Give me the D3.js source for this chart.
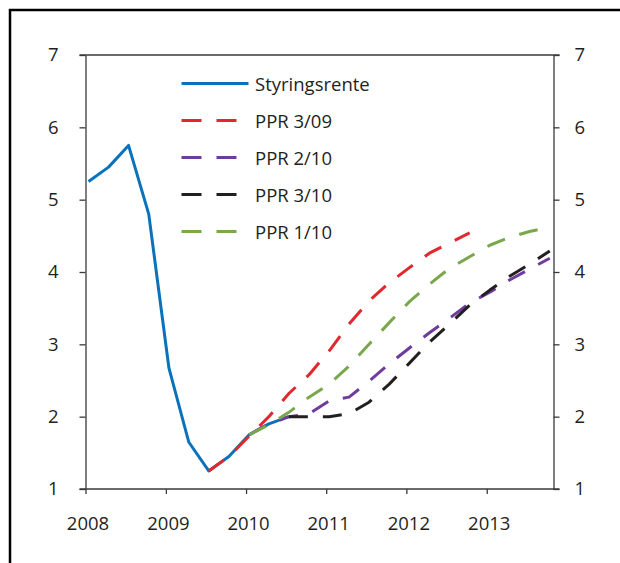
<!DOCTYPE html>
<html>
<head>
<meta charset="utf-8">
<script src="https://cdn.jsdelivr.net/npm/d3@7"></script>
<style>
  html, body { margin: 0; padding: 0; background: #fff; }
  svg { display: block; }
  text { font-family: "Open Sans", "Noto Sans", sans-serif; fill: #231f20; }
</style>
</head>
<body>
<svg id="chart" width="620" height="563"></svg>
<script>
// ---- Data (quarterly) ----
const yearTicks = [2008, 2009, 2010, 2011, 2012, 2013];
const yTicks = [1, 2, 3, 4, 5, 6, 7];

// Styringsrente: 2008K1 .. 2010K3
const styringsrenteStart = [2008, 1];
const styringsrente = [5.25, 5.45, 5.75, 4.8, 2.67, 1.65, 1.25, 1.45, 1.75, 1.9, 2.0];

// PPR 3/09: 2009K3 .. 2012K4
const ppr309Start = [2009, 3];
const ppr309 = [1.25, 1.45, 1.73, 2.0, 2.32, 2.58, 2.91, 3.28, 3.6, 3.85, 4.06, 4.26, 4.4, 4.54];

// PPR 2/10: 2010K1 .. 2013K4
const ppr210Start = [2010, 1];
const ppr210 = [1.75, 1.9, 2.0, 2.04, 2.22, 2.27, 2.49, 2.73, 2.95, 3.16, 3.36, 3.57, 3.72, 3.89, 4.04, 4.19];

// PPR 3/10: 2010K3 .. 2013K4
const ppr310Start = [2010, 3];
const ppr310 = [2.0, 2.0, 2.0, 2.04, 2.2, 2.45, 2.74, 3.03, 3.28, 3.54, 3.75, 3.94, 4.11, 4.29];

// PPR 1/10: 2010K1 .. 2013K4
const ppr110Start = [2010, 1];
const ppr110 = [1.75, 1.89, 2.06, 2.27, 2.45, 2.7, 3.0, 3.3, 3.59, 3.83, 4.05, 4.21, 4.37, 4.48, 4.56, 4.62];

const seriesNames = ["Styringsrente", "PPR 3/09", "PPR 2/10", "PPR 3/10", "PPR 1/10"];
const seriesColors = ["#0a72ba", "#e0282e", "#6f3c9e", "#231f20", "#79a74b"];

// ---- Helpers ----
function quarterDate(start, i) {
  const q0 = (start[0] * 4) + (start[1] - 1) + i;
  const yr = Math.floor(q0 / 4), q = q0 % 4;
  return new Date(Date.UTC(yr, q * 3, 15));
}
function toPoints(start, values) {
  return values.map((v, i) => ({ date: quarterDate(start, i), value: v }));
}

const series = [
  { name: seriesNames[0], color: seriesColors[0], dashed: false, pts: toPoints(styringsrenteStart, styringsrente) },
  { name: seriesNames[1], color: seriesColors[1], dashed: true, pts: toPoints(ppr309Start, ppr309) },
  { name: seriesNames[2], color: seriesColors[2], dashed: true, pts: toPoints(ppr210Start, ppr210) },
  { name: seriesNames[3], color: seriesColors[3], dashed: true, pts: toPoints(ppr310Start, ppr310) },
  { name: seriesNames[4], color: seriesColors[4], dashed: true, pts: toPoints(ppr110Start, ppr110) }
];

// ---- Layout ----
const svg = d3.select("#chart");
const pLeft = 85.5, pRight = 553.5, pTop = 55, pBottom = 489;

const x = d3.scaleUtc()
  .domain([new Date(Date.UTC(2008, 0, 1)), new Date(Date.UTC(2013, 10, 1))])
  .range([pLeft, pRight]);
const y = d3.scaleLinear().domain([1, 7]).range([pBottom, pTop]);

// outer frame (top + left)
svg.append("path")
  .attr("d", "M10,563 V10 H620")
  .attr("fill", "none")
  .attr("stroke", "#000")
  .attr("stroke-width", 2.5);

const axisColor = "#3a3a3a";

// left axis
const gL = svg.append("g").attr("transform", `translate(${pLeft},0)`)
  .call(d3.axisLeft(y).tickValues(yTicks).tickFormat(d3.format("d")).tickSize(6).tickSizeOuter(0).tickPadding(21));
// right axis
const gR = svg.append("g").attr("transform", `translate(${pRight},0)`)
  .call(d3.axisRight(y).tickValues(yTicks).tickFormat(d3.format("d")).tickSize(6).tickSizeOuter(0).tickPadding(15));
// bottom axis
const gB = svg.append("g").attr("transform", `translate(0,${pBottom})`)
  .call(d3.axisBottom(x).tickValues(yearTicks.map(yv => new Date(Date.UTC(yv, 0, 1))))
    .tickFormat(d3.utcFormat("%Y")).tickSize(5).tickSizeOuter(0));
gB.selectAll("text").attr("y", 41).attr("dy", 0).attr("dx", 2);

[gL, gR, gB].forEach(g => {
  g.selectAll("path.domain").attr("stroke", axisColor).attr("stroke-width", 1.3);
  g.selectAll(".tick line").attr("stroke", axisColor).attr("stroke-width", 1.3);
  g.selectAll("text")
    .attr("font-family", "'Open Sans', 'Noto Sans', sans-serif")
    .attr("font-size", 18.5)
    .attr("fill", "#231f20");
});
gB.select("path.domain").remove();
svg.append("line")
  .attr("x1", pLeft - 6).attr("x2", pRight + 6).attr("y1", pBottom).attr("y2", pBottom)
  .attr("stroke", axisColor).attr("stroke-width", 1.3);
svg.append("line")
  .attr("x1", pLeft - 6).attr("x2", pRight + 6).attr("y1", pTop).attr("y2", pTop)
  .attr("stroke", axisColor).attr("stroke-width", 1.3);

// ---- Lines ----
const line = d3.line().x(d => x(d.date)).y(d => y(d.value));
series.forEach(s => {
  svg.append("path")
    .datum(s.pts)
    .attr("d", line)
    .attr("fill", "none")
    .attr("stroke", s.color)
    .attr("stroke-width", 3)
    .attr("stroke-linejoin", "round")
    .attr("stroke-dasharray", s.dashed ? "19,15" : null);
});

// ---- Legend ----
const legX = 181.5, legY0 = 83.5, legStep = 37;
series.forEach((s, i) => {
  const ly = legY0 + i * legStep;
  const g = svg.append("g");
  if (!s.dashed) {
    g.append("line").attr("x1", legX).attr("x2", legX + 67).attr("y1", ly).attr("y2", ly)
      .attr("stroke", s.color).attr("stroke-width", 3);
  } else {
    g.append("line").attr("x1", legX).attr("x2", legX + 55).attr("y1", ly).attr("y2", ly)
      .attr("stroke", s.color).attr("stroke-width", 3).attr("stroke-dasharray", "20,15");
  }
  g.append("text").attr("x", 255).attr("y", ly + 7)
    .attr("font-size", 18.5).text(s.name);
});
</script>
</body>
</html>
